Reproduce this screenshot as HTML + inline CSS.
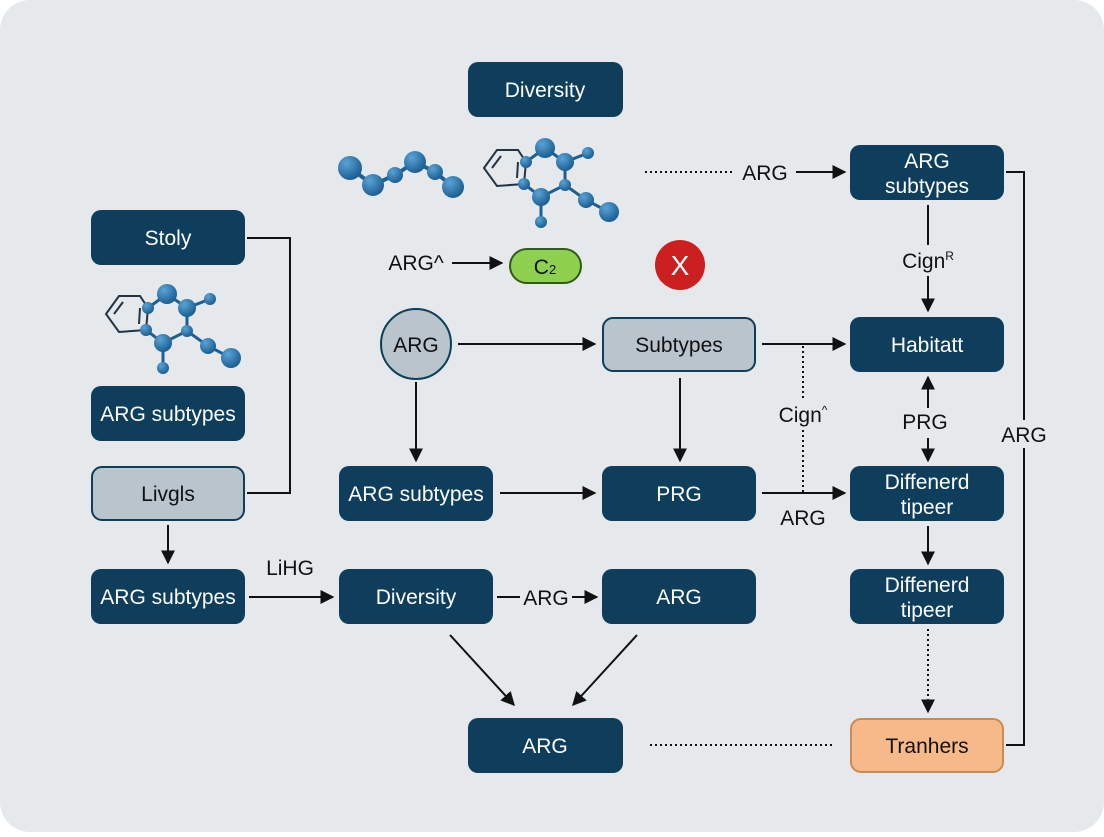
<!DOCTYPE html>
<html><head><meta charset="utf-8"><style>
body{margin:0;width:1104px;height:832px;background:#fff;font-family:"Liberation Sans",sans-serif;overflow:hidden}
</style></head><body>
<svg width="1104" height="832" xmlns="http://www.w3.org/2000/svg" font-family="Liberation Sans, sans-serif">
<defs>
<marker id="a" viewBox="0 0 10 10" refX="9" refY="5" markerWidth="7" markerHeight="7" orient="auto"><path d="M0,0 L10,5 L0,10 z" fill="#111"/></marker>
<radialGradient id="b" cx="35%" cy="30%" r="70%"><stop offset="0" stop-color="#5aa3d6"/><stop offset="1" stop-color="#1d5f92"/></radialGradient>
</defs>
<rect x="0" y="0" width="1104" height="832" rx="30" fill="#e5e9ec"/>
<g fill="#0e3e5c">
<rect x="468" y="62" width="155" height="55" rx="10"/>
<rect x="91" y="210" width="154" height="55" rx="10"/>
<rect x="91" y="386" width="154" height="55" rx="10"/>
<rect x="91" y="569" width="154" height="55" rx="10"/>
<rect x="339" y="466" width="154" height="55" rx="10"/>
<rect x="602" y="466" width="154" height="55" rx="10"/>
<rect x="339" y="569" width="154" height="55" rx="10"/>
<rect x="602" y="569" width="154" height="55" rx="10"/>
<rect x="468" y="718" width="155" height="55" rx="10"/>
<rect x="850" y="145" width="154" height="55" rx="10"/>
<rect x="850" y="317" width="154" height="55" rx="10"/>
<rect x="850" y="466" width="154" height="55" rx="10"/>
<rect x="850" y="569" width="154" height="55" rx="10"/>
</g>
<rect x="92" y="467" width="152" height="53" rx="10" fill="#b9c4cc" stroke="#0e3e5c" stroke-width="2"/>
<rect x="603" y="318" width="152" height="53" rx="10" fill="#b9c4cc" stroke="#0e3e5c" stroke-width="2"/>
<circle cx="416" cy="344" r="35" fill="#b9c4cc" stroke="#0e3e5c" stroke-width="2"/>
<rect x="851" y="719" width="152" height="53" rx="10" fill="#f6b98a" stroke="#c98a55" stroke-width="2"/>
<rect x="510" y="249" width="71" height="34" rx="17" fill="#8fd14f" stroke="#2f5a18" stroke-width="2"/>
<circle cx="680" cy="265" r="25" fill="#cc1f1f"/>
<text x="680" y="275" font-size="28" fill="#fff" text-anchor="middle">X</text>
<g fill="#fff" font-size="21" text-anchor="middle">
<text x="545" y="97">Diversity</text>
<text x="168" y="245">Stoly</text>
<text x="168" y="421">ARG subtypes</text>
<text x="168" y="604">ARG subtypes</text>
<text x="416" y="501">ARG subtypes</text>
<text x="679" y="501">PRG</text>
<text x="416" y="604">Diversity</text>
<text x="679" y="604">ARG</text>
<text x="545" y="753">ARG</text>
<text x="927" y="168">ARG</text><text x="927" y="193">subtypes</text>
<text x="927" y="352">Habitatt</text>
<text x="927" y="489">Diffenerd</text><text x="927" y="514">tipeer</text>
<text x="927" y="592">Diffenerd</text><text x="927" y="617">tipeer</text>
</g>
<g fill="#111" font-size="21" text-anchor="middle">
<text x="168" y="501">Livgls</text>
<text x="679" y="352">Subtypes</text>
<text x="416" y="352">ARG</text>
<text x="927" y="753">Tranhers</text>
<text x="545" y="274">C<tspan font-size="13">2</tspan></text>
<text x="416" y="270">ARG^</text>
<text x="765" y="180">ARG</text>
<text x="928" y="268">Cign<tspan font-size="12" dy="-8">R</tspan></text>
<text x="803" y="422">Cign<tspan font-size="12" dy="-8">^</tspan></text>
<text x="925" y="429">PRG</text>
<text x="803" y="525">ARG</text>
<text x="290" y="575">LiHG</text>
<text x="546" y="605">ARG</text>
</g>
<g stroke="#111" stroke-width="2" fill="none">
<polyline points="247,238 290,238 290,493 247,493"/>
<polyline points="1006,172 1024,172 1024,745 1006,745"/>
<line x1="168" y1="525" x2="168" y2="563" marker-end="url(#a)"/>
<line x1="249" y1="597" x2="333" y2="597" marker-end="url(#a)"/>
<line x1="497" y1="597" x2="520" y2="597"/>
<line x1="572" y1="597" x2="597" y2="597" marker-end="url(#a)"/>
<line x1="450" y1="635" x2="514" y2="705" marker-end="url(#a)"/>
<line x1="637" y1="635" x2="573" y2="705" marker-end="url(#a)"/>
<line x1="452" y1="263" x2="502" y2="263" marker-end="url(#a)"/>
<line x1="458" y1="344" x2="595" y2="344" marker-end="url(#a)"/>
<line x1="416" y1="382" x2="416" y2="461" marker-end="url(#a)"/>
<line x1="680" y1="378" x2="680" y2="461" marker-end="url(#a)"/>
<line x1="500" y1="493" x2="595" y2="493" marker-end="url(#a)"/>
<line x1="762" y1="493" x2="845" y2="493" marker-end="url(#a)"/>
<line x1="762" y1="344" x2="845" y2="344" marker-end="url(#a)"/>
<line x1="796" y1="172" x2="845" y2="172" marker-end="url(#a)"/>
<line x1="928" y1="205" x2="928" y2="245"/>
<line x1="928" y1="276" x2="928" y2="311" marker-end="url(#a)"/>
<line x1="928" y1="408" x2="928" y2="377" marker-end="url(#a)"/>
<line x1="928" y1="438" x2="928" y2="461" marker-end="url(#a)"/>
<line x1="928" y1="526" x2="928" y2="564" marker-end="url(#a)"/>
<g stroke-dasharray="2,3">
<line x1="645" y1="172" x2="735" y2="172"/>
<line x1="650" y1="745" x2="835" y2="745"/>
<line x1="803" y1="346" x2="803" y2="400"/>
<line x1="803" y1="430" x2="803" y2="492"/>
<line x1="928" y1="629" x2="928" y2="712" marker-end="url(#a)"/>
</g>
</g>
<rect x="998" y="420" width="52" height="28" fill="#e5e9ec"/>
<text x="1024" y="442" font-size="21" fill="#111" text-anchor="middle">ARG</text>
<!-- chain molecule -->
<g stroke="#1d5f92" stroke-width="4" fill="none"><polyline points="350,168 373,185 395,175 415,162 435,172 453,187"/></g>
<g fill="url(#b)"><circle cx="350" cy="168" r="12"/><circle cx="373" cy="185" r="11"/><circle cx="395" cy="175" r="8"/><circle cx="415" cy="162" r="11"/><circle cx="435" cy="172" r="8"/><circle cx="453" cy="187" r="11"/></g>
<!-- ring molecules -->
<g id="m1">
<polygon points="484,168 497,150 518,150 526,162 524,184 497,186" fill="none" stroke="#234" stroke-width="2"/>
<line x1="492" y1="168" x2="501" y2="156" stroke="#234" stroke-width="2"/>
<line x1="518" y1="162" x2="517" y2="178" stroke="#234" stroke-width="2"/>
<g stroke="#1d5f92" stroke-width="3" fill="none"><polyline points="526,162 545,148 565,162 588,153"/><polyline points="524,184 541,197 565,185 565,162"/><line x1="541" y1="197" x2="541" y2="222"/><polyline points="565,185 586,200 609,212"/></g>
<g fill="url(#b)"><circle cx="545" cy="148" r="10"/><circle cx="565" cy="162" r="9"/><circle cx="588" cy="153" r="6"/><circle cx="526" cy="162" r="6"/><circle cx="524" cy="184" r="6"/><circle cx="541" cy="197" r="9"/><circle cx="565" cy="185" r="6"/><circle cx="586" cy="200" r="8"/><circle cx="609" cy="212" r="10"/><circle cx="541" cy="222" r="6"/></g>
</g>
<g transform="translate(-378,146)"><use href="#m1"/></g>
</svg>
</body></html>
